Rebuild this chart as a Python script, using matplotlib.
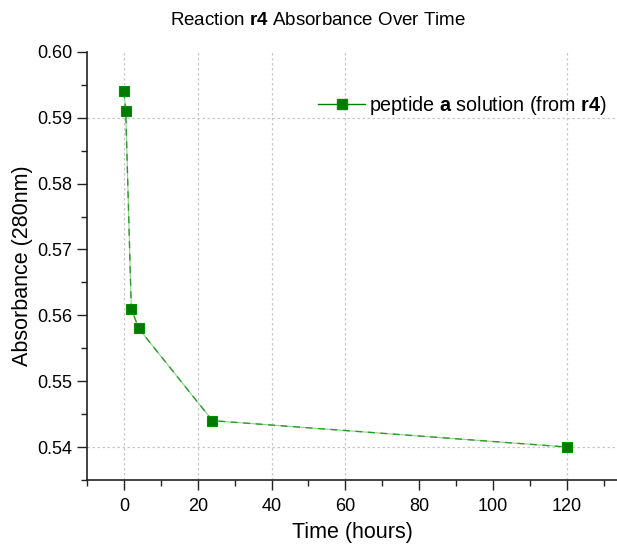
import matplotlib
matplotlib.use("Agg")
import matplotlib.pyplot as plt
from matplotlib.ticker import MultipleLocator

plt.rcParams['font.family'] = ['Liberation Sans', 'DejaVu Sans']
plt.rcParams['mathtext.fontset'] = 'custom'
plt.rcParams['mathtext.rm'] = 'Liberation Sans'
plt.rcParams['mathtext.bf'] = 'Liberation Sans:bold'

time_hours = [0, 0.5, 2, 4, 24, 120]
absorbance = [0.594, 0.591, 0.561, 0.558, 0.544, 0.540]
x_ticks = [0, 20, 40, 60, 80, 100, 120]
y_ticks = [0.54, 0.55, 0.56, 0.57, 0.58, 0.59, 0.60]
x_grid = [0, 20, 40, 60, 120]
y_grid = [0.54, 0.59]

fig = plt.figure(figsize=(6.17, 5.46), dpi=100)
ax = fig.add_axes([0.141, 0.121, 0.859, 0.784])

for xv in x_grid:
    ax.axvline(xv, color='#c8c8c8', lw=0.9, ls=(0, (2, 2)), zorder=0)
for yv in y_grid:
    ax.axhline(yv, color='#c8c8c8', lw=0.9, ls=(0, (2, 2)), zorder=0)

ax.plot(time_hours, absorbance, color='#8fd08f', lw=0.8, zorder=2)
ax.plot(time_hours, absorbance, color='#2e9a2e', lw=1.0, ls=(0, (5, 4)), zorder=2)
ax.plot(time_hours, absorbance, ls='none', marker='s', ms=7.5, color='#007a00',
        mec='#009000', mew=0.8, zorder=3)

h, = ax.plot([], [], color='#008000', lw=1.0, marker='s', ms=6.5, mfc='#007a00', mec='#009000')
ax.legend([h], ['peptide $\\mathbf{a}$ solution (from $\\mathbf{r4}$)'], loc='upper right',
          bbox_to_anchor=(1.0, 0.925), frameon=False, fontsize=14.2, handlelength=2.4,
          handletextpad=0.2, borderaxespad=0.1)

ax.set_xlim(-10, 133.6)
ax.set_ylim(0.535, 0.600)
ax.set_xticks(x_ticks)
ax.set_yticks(y_ticks)
ax.set_yticklabels([f"{v:.2f}" for v in y_ticks])
ax.xaxis.set_minor_locator(MultipleLocator(10))
ax.yaxis.set_minor_locator(MultipleLocator(0.005))
ax.tick_params(axis='both', which='major', direction='out', length=7, width=1, labelsize=13, color='#222222')
ax.tick_params(axis='both', which='minor', direction='out', length=4, width=1, color='#222222')
ax.tick_params(axis='x', pad=6)

for s in ['top', 'right']:
    ax.spines[s].set_visible(False)
for s in ['left', 'bottom']:
    ax.spines[s].set_linewidth(1.2)
    ax.spines[s].set_color('#222222')

ax.set_xlabel('Time (hours)', fontsize=15.5, labelpad=5)
ax.set_ylabel('Absorbance (280nm)', fontsize=15.5, labelpad=3)
fig.text(0.515, 0.962, 'Reaction $\\mathbf{r4}$ Absorbance Over Time', ha='center', va='center', fontsize=13.5)

fig.savefig('out.png', dpi=100)
